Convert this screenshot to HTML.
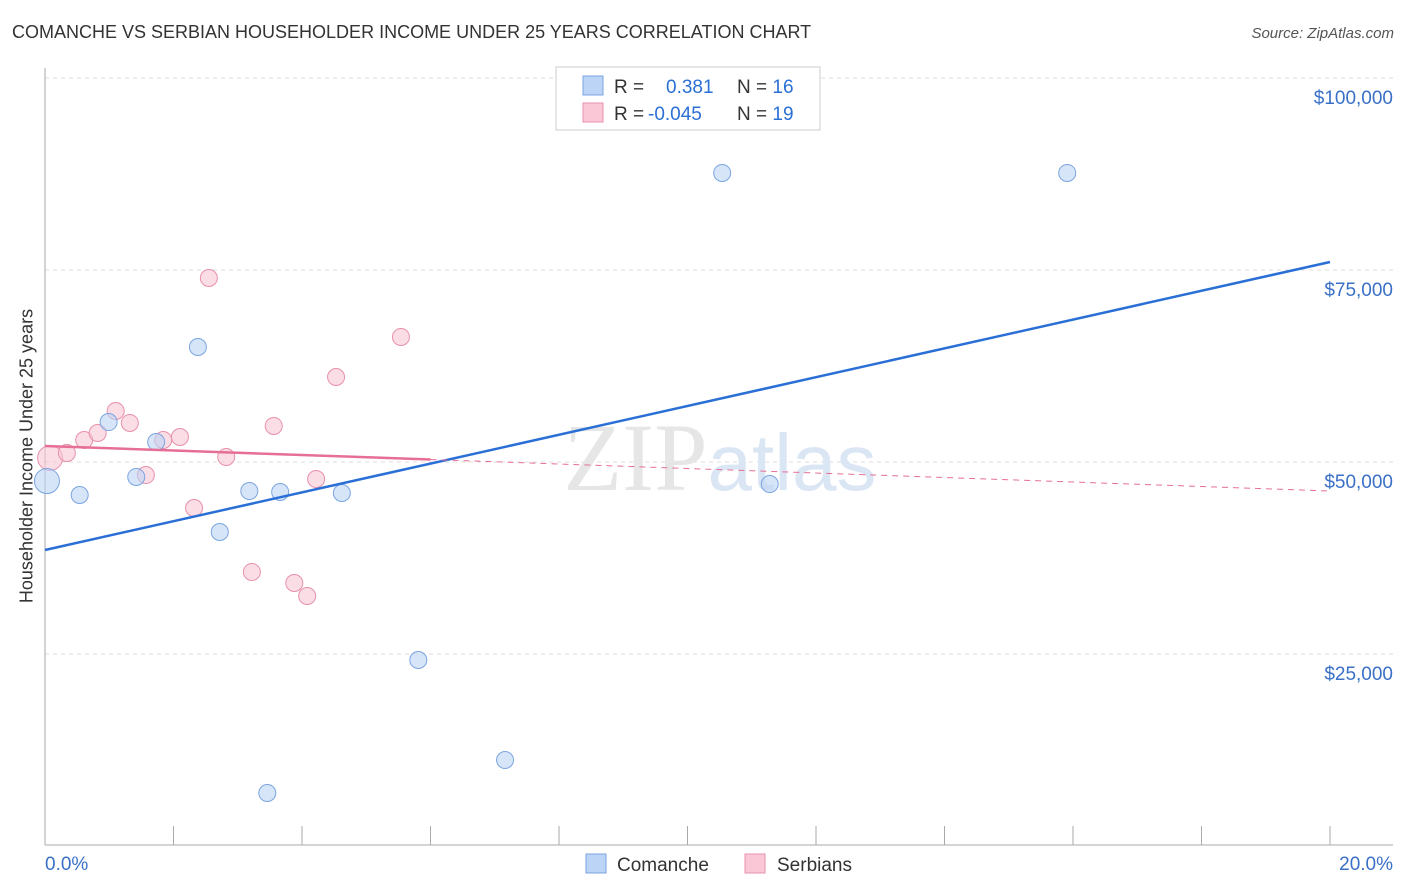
<!DOCTYPE html>
<html><head><meta charset="utf-8"><style>
body{margin:0;background:#fff;font-family:"Liberation Sans",sans-serif;}
#wrap{position:relative;width:1406px;height:892px;overflow:hidden;}
.t{position:absolute;white-space:nowrap;}
</style></head><body>
<div id="wrap">
<div class="t" style="left:12px;top:22px;font-size:18px;color:#333;">COMANCHE VS SERBIAN HOUSEHOLDER INCOME UNDER 25 YEARS CORRELATION CHART</div>
<div class="t" style="right:12px;top:25px;font-size:15px;color:#555;font-style:italic;">Source: ZipAtlas.com</div>
<div class="t" style="left:27px;top:456px;font-size:18px;color:#333;transform:translate(-50%,-50%) rotate(-90deg);">Householder Income Under 25 years</div>
<svg id="svg" width="1406" height="892" style="position:absolute;left:0;top:0"></svg>
</div>
<script>
const comancheX=[0.03,0.54,0.99,1.42,1.73,2.38,2.72,3.18,3.66,4.62,5.81,7.16,3.46,10.54,11.28,15.91];
const comancheY=[47520,45700,55200,48050,52600,64970,40880,46220,46090,45960,24220,11200,6900,87630,47130,87630];
const serbX=[0.08,0.34,0.61,0.82,1.1,1.32,1.57,1.84,2.1,2.32,2.55,2.82,3.22,3.56,3.88,4.08,4.22,4.53,5.54];
const serbY=[50520,51170,52860,53770,56640,55080,48300,52860,53250,44010,73950,50650,35680,54690,34240,32550,47780,61060,66270];
const blueTrend=[38540,76040];
const pinkTrend=[52080,46220];
const yTicks=[25000,50000,75000,100000];
const yTickLabels=["$25,000","$50,000","$75,000","$100,000"];
const xTicks=[0,2,4,6,8,10,12,14,16,18,20];

const X=v=>45+v*64.25;
const Y=v=>846-v/130.2;
const svg=document.getElementById('svg');
const NS='http://www.w3.org/2000/svg';
function mk(tag,attrs,parent){const e=document.createElementNS(NS,tag);for(const k in attrs)e.setAttribute(k,attrs[k]);(parent||svg).appendChild(e);return e;}

yTicks.forEach((v,i)=>{
 const g=mk('line',{x1:45,x2:1393,y1:Y(v),y2:Y(v),stroke:'#ddd','stroke-dasharray':'4 4'});
 
 
 const t=mk('text',{x:1393,y:Y(v)+26,'text-anchor':'end','font-size':19,fill:'#3a70c8','font-family':'Liberation Sans'});
 t.textContent=yTickLabels[i];
 
 
});
const wm=mk('text',{x:720,y:490,'text-anchor':'middle','font-size':96,fill:'#e6e6e6','font-family':'Liberation Serif'});
wm.innerHTML='ZIP<tspan fill="#dbe6f5" font-family="Liberation Sans" font-size="80">atlas</tspan>';


const ax=mk('line',{x1:45,x2:1393,y1:845,y2:845,stroke:'#aaa'});


const ay=mk('line',{x1:45,x2:45,y1:68,y2:845,stroke:'#aaa'});


xTicks.forEach(v=>{
 const l=mk('line',{x1:X(v),x2:X(v),y1:826,y2:845,stroke:'#aaa'});
 
 
});
const xl0=mk('text',{x:45,y:870,'font-size':19,fill:'#3a70c8','font-family':'Liberation Sans'});xl0.textContent='0.0%';


const xl1=mk('text',{x:1393,y:870,'text-anchor':'end','font-size':19,fill:'#3a70c8','font-family':'Liberation Sans'});xl1.textContent='20.0%';


function pts(xs,ys,fill,stroke,name,bigIdx){
 xs.forEach((x,i)=>{
  const c=mk('circle',{cx:X(x),cy:Y(ys[i]),r:i===bigIdx?12.5:8.5,fill:fill,stroke:stroke,'stroke-width':1,'fill-opacity':0.6});
  
  
 });
}
pts(serbX,serbY,'#f9c7d6','#e890ab','serbians-point',0);
pts(comancheX,comancheY,'#bcd4f5','#7aa5e0','comanche-point',0);
const bt=mk('line',{x1:X(0),y1:Y(blueTrend[0]),x2:X(20),y2:Y(blueTrend[1]),stroke:'#2a6fd6','stroke-width':2.5});


const pAt=x=>pinkTrend[0]+(pinkTrend[1]-pinkTrend[0])*x/20;
const pt=mk('line',{x1:X(0),y1:Y(pAt(0)),x2:X(6),y2:Y(pAt(6)),stroke:'#e66f95','stroke-width':2.5});


const pd=mk('line',{x1:X(6),y1:Y(pAt(6)),x2:X(20),y2:Y(pAt(20)),stroke:'#e66f95','stroke-width':1,'stroke-dasharray':'6 5'});


const lg=mk('g',{});


mk('rect',{x:556,y:67,width:264,height:63,fill:'#fff',stroke:'#ccc'},lg);
mk('rect',{x:583,y:76,width:20,height:19,fill:'#bcd4f5',stroke:'#7aa5e0'},lg);
mk('rect',{x:583,y:103,width:20,height:19,fill:'#f9c7d6',stroke:'#e890ab'},lg);
const l1=mk('text',{x:614,y:93,'font-size':19,fill:'#333','font-family':'Liberation Sans'},lg);
l1.innerHTML='R = <tspan x="666" fill="#2a6fd6">0.381</tspan><tspan x="737">N = </tspan><tspan fill="#2a6fd6">16</tspan>';
const l2=mk('text',{x:614,y:120,'font-size':19,fill:'#333','font-family':'Liberation Sans'},lg);
l2.innerHTML='R = <tspan x="648" fill="#2a6fd6">-0.045</tspan><tspan x="737">N = </tspan><tspan fill="#2a6fd6">19</tspan>';
const b1=mk('rect',{x:586,y:854,width:20,height:19,fill:'#bcd4f5',stroke:'#7aa5e0'});


const bt1=mk('text',{x:617,y:871,'font-size':19,fill:'#333','font-family':'Liberation Sans'});bt1.textContent='Comanche';


const b2=mk('rect',{x:745,y:854,width:20,height:19,fill:'#f9c7d6',stroke:'#e890ab'});


const bt2=mk('text',{x:777,y:871,'font-size':19,fill:'#333','font-family':'Liberation Sans'});bt2.textContent='Serbians';


</script>
</body></html>
